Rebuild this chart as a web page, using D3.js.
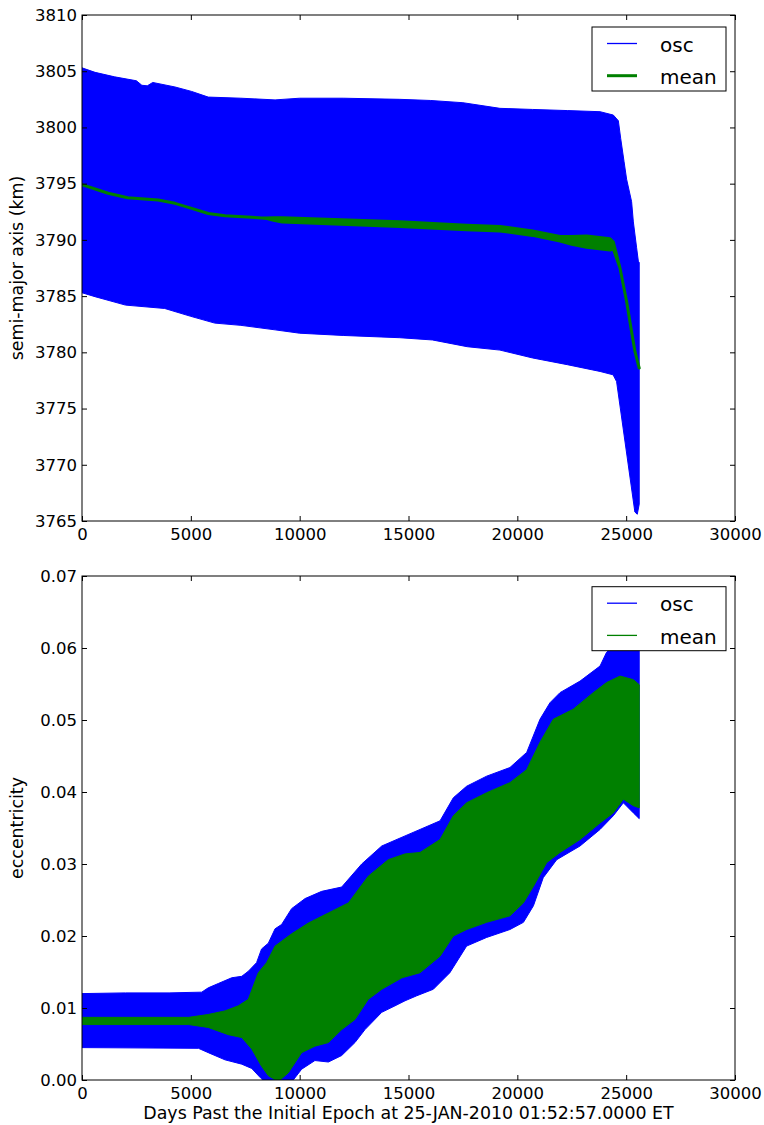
<!DOCTYPE html>
<html>
<head>
<meta charset="utf-8">
<script src="https://cdn.jsdelivr.net/npm/d3@7"></script>
<style>
  html, body { margin: 0; padding: 0; background: #fff; }
  svg { display: block; }
  text { font-family: "DejaVu Sans", sans-serif; fill: #000; }
</style>
</head>
<body>
<svg id="chart" width="764" height="1125"></svg>
<script>
// ---------------- DATA ----------------
const xTicks = [0, 5000, 10000, 15000, 20000, 25000, 30000];
const saTicks = [3765, 3770, 3775, 3780, 3785, 3790, 3795, 3800, 3805, 3810];
const eTicks = [0.00, 0.01, 0.02, 0.03, 0.04, 0.05, 0.06, 0.07];
const legendLabels = ["osc", "mean"];
const xLabel = "Days Past the Initial Epoch at 25-JAN-2010 01:52:57.0000 ET";
const saLabel = "semi-major axis (km)";
const eLabel = "eccentricity";

// semi-major axis, osculating envelope (upper / lower), km
const saHiDays = [0, 600, 1500, 2500, 2750, 3000, 3250, 4270, 5040, 5800, 7300, 8870, 10000, 12000, 14600, 16000, 17500, 19200, 20700, 22300, 23800, 24410, 24640, 24750, 24900, 25020, 25250, 25330, 25480, 25560, 25600];
const saHi     = [3805.3, 3804.9, 3804.5, 3804.15, 3803.75, 3803.7, 3804.0, 3803.6, 3803.2, 3802.7, 3802.6, 3802.45, 3802.6, 3802.6, 3802.5, 3802.4, 3802.2, 3801.7, 3801.6, 3801.5, 3801.4, 3801.1, 3800.6, 3799.0, 3797.0, 3795.4, 3793.4, 3791.6, 3789.3, 3788.1, 3788.0];
const saLoDays = [0, 600, 2000, 3800, 5000, 6100, 7300, 8870, 10000, 12000, 14600, 16100, 17700, 19200, 20700, 22300, 23800, 24400, 24560, 25400, 25510, 25600];
const saLo     = [3785.3, 3784.95, 3784.2, 3783.9, 3783.2, 3782.6, 3782.4, 3782.0, 3781.7, 3781.5, 3781.3, 3781.1, 3780.5, 3780.2, 3779.5, 3778.9, 3778.3, 3778.0, 3777.4, 3765.8, 3765.6, 3766.5];

// semi-major axis, mean (band of its short-period wiggle: upper / lower), km
const saMeanDays = [0, 1200, 2100, 3500, 4270, 5040, 5800, 6570, 8100, 8500, 8800, 9200, 14600, 17670, 19200, 20700, 21960, 22500, 23185, 24257, 24410, 24716, 25022, 25251, 25405, 25600];
const saMeanHi   = [3794.9, 3794.15, 3793.75, 3793.55, 3793.25, 3792.8, 3792.35, 3792.15, 3791.97, 3791.95, 3791.98, 3791.98, 3791.62, 3791.3, 3791.2, 3790.8, 3790.3, 3790.3, 3790.35, 3790.1, 3789.8, 3787.5, 3784.5, 3781.8, 3780.06, 3778.6];
const saMeanLo   = [3794.9, 3794.15, 3793.75, 3793.55, 3793.25, 3792.8, 3792.35, 3792.15, 3791.97, 3791.9, 3791.75, 3791.58, 3791.2, 3790.9, 3790.8, 3790.4, 3789.9, 3789.6, 3789.35, 3789.1, 3789.2, 3787.5, 3784.5, 3781.8, 3780.06, 3778.6];

// eccentricity, osculating envelope (upper / lower)
const eHiDays = [0, 2000, 4000, 5500, 5800, 6260, 6880, 7340, 7640, 8020, 8250, 8560, 8870, 9170, 9630, 10250, 11010, 11930, 12850, 13770, 14840, 15530, 16450, 17060, 17670, 18590, 19660, 20430, 21040, 21500, 21960, 22880, 23800, 24100, 24560, 25000, 25600];
const eHi     = [0.0120, 0.0121, 0.0121, 0.0122, 0.0128, 0.0134, 0.0142, 0.0144, 0.0151, 0.0163, 0.0182, 0.0190, 0.0210, 0.0216, 0.0238, 0.0252, 0.0262, 0.0268, 0.0300, 0.0325, 0.0339, 0.0348, 0.0360, 0.0392, 0.0408, 0.0422, 0.0434, 0.0455, 0.0501, 0.0524, 0.0538, 0.0554, 0.0575, 0.0594, 0.0607, 0.0615, 0.0620];
const eLoDays = [0, 5350, 5800, 6570, 7340, 7800, 8200, 8480, 9500, 10090, 10700, 11320, 11930, 12540, 13000, 13770, 14380, 14840, 15380, 16140, 16900, 17670, 18590, 19660, 20280, 20740, 21190, 21810, 22880, 23800, 24410, 24870, 25330, 25600];
const eLo     = [0.0045, 0.0044, 0.0038, 0.0028, 0.0022, 0.0016, 0.0003, -0.0005, -0.0008, 0.0015, 0.0027, 0.0025, 0.0034, 0.0052, 0.0070, 0.0094, 0.0103, 0.0110, 0.0117, 0.0126, 0.0149, 0.0186, 0.0198, 0.0209, 0.0219, 0.0242, 0.0281, 0.0306, 0.0325, 0.0348, 0.0367, 0.0385, 0.0371, 0.0363];

// eccentricity, mean (its oscillation envelope: upper / lower)
const eMeanHiDays = [0, 4900, 5800, 6570, 7180, 7640, 8100, 8480, 8870, 9630, 10400, 11320, 12240, 13150, 14070, 14840, 15530, 16450, 17060, 17670, 18590, 19660, 20430, 21040, 21650, 22570, 23490, 24100, 24720, 25330, 25600];
const eMeanHi     = [0.0087, 0.0087, 0.0091, 0.0096, 0.0103, 0.0112, 0.0149, 0.0163, 0.0186, 0.0203, 0.0218, 0.0232, 0.0246, 0.0283, 0.0306, 0.0314, 0.0316, 0.0334, 0.0367, 0.0385, 0.0399, 0.0413, 0.0431, 0.0469, 0.0501, 0.0515, 0.0538, 0.0552, 0.0561, 0.0556, 0.0549];
const eMeanLoDays = [0, 4900, 5800, 6720, 7340, 7800, 8250, 8560, 9020, 9480, 10090, 10700, 11320, 11930, 12540, 13150, 13770, 14700, 15530, 16450, 17060, 17670, 18590, 19660, 20280, 20740, 21350, 21960, 22880, 23800, 24410, 24870, 25330, 25600];
const eMeanLo     = [0.0077, 0.0077, 0.0073, 0.0063, 0.0059, 0.0043, 0.0019, 0.0006, -0.0002, 0.0010, 0.0038, 0.0047, 0.0052, 0.0070, 0.0084, 0.0112, 0.0126, 0.0142, 0.0149, 0.0172, 0.0200, 0.0209, 0.0219, 0.0228, 0.0246, 0.0269, 0.0302, 0.0316, 0.0334, 0.0357, 0.0371, 0.0390, 0.0381, 0.0378];

// ---------------- DRAWING ----------------
const BLUE = "#0000ff", GREEN = "#008000";
const FS = 16.5, LBS = 17.4, LFS = 20;
const svg = d3.select("#chart");
svg.append("rect").attr("width", 764).attr("height", 1125).attr("fill", "#fff");

const L = 82, R = 735;
const panels = [
  { top: 15, bottom: 521, domain: [3765, 3810], ticks: saTicks, fmt: d3.format("d"), label: saLabel },
  { top: 576, bottom: 1080, domain: [0, 0.07], ticks: eTicks, fmt: d3.format(".2f"), label: eLabel }
];

const x = d3.scaleLinear().domain([0, 30000]).range([L, R]);

function bandPath(y, d1, v1, d2, v2) {
  const pts = d1.map((d, i) => [d, v1[i]]).concat(d2.map((d, i) => [d, v2[i]]).reverse());
  return d3.line().x(p => x(p[0])).y(p => y(p[1]))(pts) + "Z";
}

panels.forEach((p, k) => {
  const y = d3.scaleLinear().domain(p.domain).range([p.bottom, p.top]);
  const clipId = "clip" + k;
  svg.append("clipPath").attr("id", clipId)
    .append("rect").attr("x", L).attr("y", p.top).attr("width", R - L).attr("height", p.bottom - p.top);
  const g = svg.append("g").attr("clip-path", `url(#${clipId})`);

  if (k === 0) {
    g.append("path").attr("d", bandPath(y, saHiDays, saHi, saLoDays, saLo))
      .attr("fill", BLUE).attr("stroke", BLUE).attr("stroke-width", 1).attr("stroke-linejoin", "round");
    g.append("path").attr("d", bandPath(y, saMeanDays, saMeanHi, saMeanDays, saMeanLo))
      .attr("fill", GREEN).attr("stroke", GREEN).attr("stroke-width", 3).attr("stroke-linejoin", "round");
  } else {
    g.append("path").attr("d", bandPath(y, eHiDays, eHi, eLoDays, eLo))
      .attr("fill", BLUE).attr("stroke", BLUE).attr("stroke-width", 1).attr("stroke-linejoin", "round");
    g.append("path").attr("d", bandPath(y, eMeanHiDays, eMeanHi, eMeanLoDays, eMeanLo))
      .attr("fill", GREEN).attr("stroke", GREEN).attr("stroke-width", 1).attr("stroke-linejoin", "round");
  }

  // axes: ticks inward on all four sides
  const axB = svg.append("g").attr("transform", `translate(0,${p.bottom})`)
    .call(d3.axisBottom(x).tickValues(xTicks).tickFormat(d3.format("d")).tickSizeInner(-5).tickSizeOuter(0).tickPadding(7.3));
  const axT = svg.append("g").attr("transform", `translate(0,${p.top})`)
    .call(d3.axisTop(x).tickValues(xTicks).tickFormat("").tickSizeInner(-5).tickSizeOuter(0));
  const axLft = svg.append("g").attr("transform", `translate(${L},0)`)
    .call(d3.axisLeft(y).tickValues(p.ticks).tickFormat(p.fmt).tickSizeInner(-5).tickSizeOuter(0).tickPadding(5));
  const axRgt = svg.append("g").attr("transform", `translate(${R},0)`)
    .call(d3.axisRight(y).tickValues(p.ticks).tickFormat("").tickSizeInner(-5).tickSizeOuter(0));
  [axB, axT, axLft, axRgt].forEach(a => {
    a.select(".domain").remove();
    a.selectAll(".tick line").attr("stroke", "#000").attr("stroke-width", 1);
    a.selectAll("text").attr("font-family", "DejaVu Sans").attr("font-size", FS).attr("fill", "#000");
  });

  // frame
  svg.append("rect").attr("x", L).attr("y", p.top).attr("width", R - L).attr("height", p.bottom - p.top)
    .attr("fill", "none").attr("stroke", "#000").attr("stroke-width", 1);

  // y label
  svg.append("text").attr("transform", `translate(23,${(p.top + p.bottom) / 2}) rotate(-90)`)
    .attr("text-anchor", "middle").attr("font-size", LBS).text(p.label);

  // legend
  const lg = svg.append("g").attr("transform", `translate(592,${k === 0 ? 27 : 586.7})`);
  lg.append("rect").attr("width", 134).attr("height", 64).attr("fill", "#fff").attr("stroke", "#000").attr("stroke-width", 1);
  const rows = [{ c: BLUE, w: 1.3 }, { c: GREEN, w: k === 0 ? 3 : 1.3 }];
  legendLabels.forEach((name, i) => {
    const ly = 16.5 + i * 32.2;
    lg.append("line").attr("x1", 15).attr("x2", 45).attr("y1", ly).attr("y2", ly)
      .attr("stroke", rows[i].c).attr("stroke-width", rows[i].w);
    lg.append("text").attr("x", 68).attr("y", ly + 8.3).attr("font-size", LFS).text(name);
  });
});

// x label
svg.append("text").attr("x", (L + R) / 2).attr("y", 1119).attr("text-anchor", "middle")
  .attr("font-size", LBS).text(xLabel);
</script>
</body>
</html>
